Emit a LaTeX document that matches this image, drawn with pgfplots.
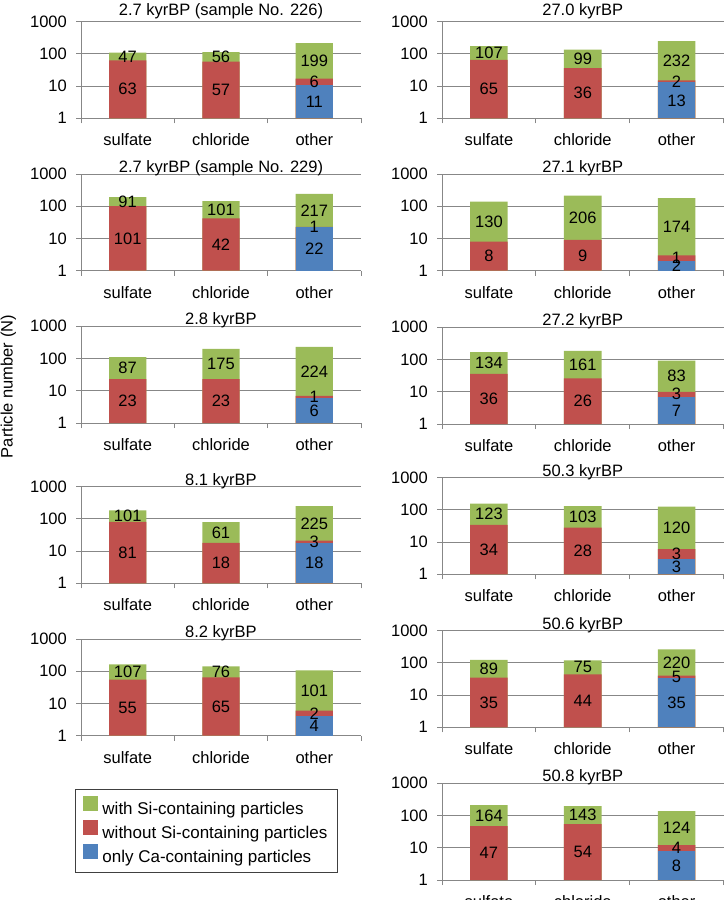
\documentclass[border=0pt]{standalone}
\usepackage{fontspec}
\setmainfont{Liberation Sans}
\usepackage{pgfplots}
\usepackage{pgfplotstable}
\pgfplotsset{compat=1.18}
\definecolor{cgreen}{HTML}{9BBB59}
\definecolor{cred}{HTML}{C0504D}
\definecolor{cblue}{HTML}{4F81BD}
\definecolor{axgray}{HTML}{878787}

% columns: x, b = only Ca-containing, r = without Si-containing, g = with Si-containing
\pgfplotstableread{
x b r g
0 0 63 47
1 0 57 56
2 11 6 199
}\tA
\pgfplotstableread{
x b r g
0 0 101 91
1 0 42 101
2 22 1 217
}\tB
\pgfplotstableread{
x b r g
0 0 23 87
1 0 23 175
2 6 1 224
}\tC
\pgfplotstableread{
x b r g
0 0 81 101
1 0 18 61
2 18 3 225
}\tD
\pgfplotstableread{
x b r g
0 0 55 107
1 0 65 76
2 4 2 101
}\tE
\pgfplotstableread{
x b r g
0 0 65 107
1 0 36 99
2 13 2 232
}\tF
\pgfplotstableread{
x b r g
0 0 8 130
1 0 9 206
2 2 1 174
}\tG
\pgfplotstableread{
x b r g
0 0 36 134
1 0 26 161
2 7 3 83
}\tH
\pgfplotstableread{
x b r g
0 0 34 123
1 0 28 103
2 3 3 120
}\tI
\pgfplotstableread{
x b r g
0 0 35 89
1 0 44 75
2 35 5 220
}\tJ
\pgfplotstableread{
x b r g
0 0 47 164
1 0 54 143
2 8 4 124
}\tK

\pgfplotsset{
  every axis title/.style={at={(0.5,1)}, anchor=base, inner sep=0pt, yshift=1.5pt},
  chartpanel/.style={
    scale only axis, height=96.7pt, anchor=south west,
    ymin=1, ymax=1000,
    xmin=-0.5, xmax=2.5,
    ytick={1,10,100,1000}, yticklabels={1,10,100,1000}, yminorticks=false,
    xtick={-0.5,0.5,1.5,2.5}, x tick label as interval,
    xticklabels={sulfate,chloride,other},
    axis x line=bottom, axis y line=left,
    axis line style={-, draw=axgray, line width=0.8pt},
    ymajorgrids, major grid style={draw=axgray, line width=0.8pt},
    tick align=outside, major tick length=5pt,
    tick style={draw=axgray, line width=0.8pt},
    yticklabel style={anchor=east, inner sep=0pt, xshift=-9pt},
    xticklabel style={anchor=base, inner sep=0pt, yshift=-22.5pt},
    /pgf/number format/assume math mode=true,
  },
  mybar/.style={ybar, bar width=0.4, bar shift=0pt, draw=none, fill=#1,
    legend image code/.code={\fill[#1] (0pt,-2pt) rectangle (15pt,13pt);}},
  mylab/.style={draw=none, mark=none, forget plot, nodes near coords,
    point meta=explicit symbolic,
    every node near coord/.append style={anchor=center, inner sep=0pt, text=black}},
}

\newcommand{\panel}[6]{%
\begin{axis}[ymode=log, chartpanel, at={(#1pt,-#2pt)}, width=#3pt, title={#4}, #6]
\addplot[mybar=cgreen] table[x=x, y expr=\thisrow{b}+\thisrow{r}+\thisrow{g}] {#5};
\addplot[mybar=cred] table[x=x, y expr=\thisrow{b}+\thisrow{r}] {#5};
\addplot[mybar=cblue, skip coords between index={0}{2}] table[x=x, y=b] {#5};
\addplot[mylab] table[x=x, y expr={sqrt((\thisrow{b}+\thisrow{r})*(\thisrow{b}+\thisrow{r}+\thisrow{g}))}, meta=g] {#5};
\addplot[mylab] table[x=x, y expr={sqrt(max(\thisrow{b},1)*(\thisrow{b}+\thisrow{r}))}, meta=r] {#5};
\addplot[mylab, skip coords between index={0}{2}] table[x=x, y expr={sqrt(\thisrow{b})}, meta=b] {#5};
\end{axis}}

\begin{document}
\begin{tikzpicture}[font=\fontsize{16.5}{19.8}\selectfont]
\useasboundingbox (0,0) rectangle (724pt,-900pt);
% left column
\panel{81}{118.3}{280}{2.7 kyrBP (sample No. 226)}{\tA}{title style={yshift=4.5pt}}
\panel{81}{270.7}{280}{2.7 kyrBP (sample No. 229)}{\tB}{}
\panel{81}{423}{280}{2.8 kyrBP}{\tC}{}
\panel{81}{583.3}{280}{8.1 kyrBP}{\tD}{}
\panel{81}{735.7}{280}{8.2 kyrBP}{\tE}{legend entries={with Si-containing particles, without Si-containing particles, only Ca-containing particles},
  legend cell align=left,
  legend style={at={(-0.0214,-0.551)}, anchor=north west, draw=black!75, line width=0.9pt,
    font=\fontsize{17}{20}\selectfont,
    inner xsep=8pt, inner ysep=6.5pt, row sep=2pt, column sep=2pt, nodes={inner sep=2pt}}}
% right column
\panel{442}{118.3}{281.5}{27.0 kyrBP}{\tF}{title style={yshift=4.5pt}}
\panel{442}{270.7}{281.5}{27.1 kyrBP}{\tG}{}
\panel{442}{424}{281.5}{27.2 kyrBP}{\tH}{}
\panel{442}{574.3}{281.5}{50.3 kyrBP}{\tI}{}
\panel{442}{727.3}{281.5}{50.6 kyrBP}{\tJ}{}
\panel{442}{880}{281.5}{50.8 kyrBP}{\tK}{}
\node[rotate=90, anchor=base] at (12.7pt,-386.5pt) {Particle number (N)};
\end{tikzpicture}
\end{document}
